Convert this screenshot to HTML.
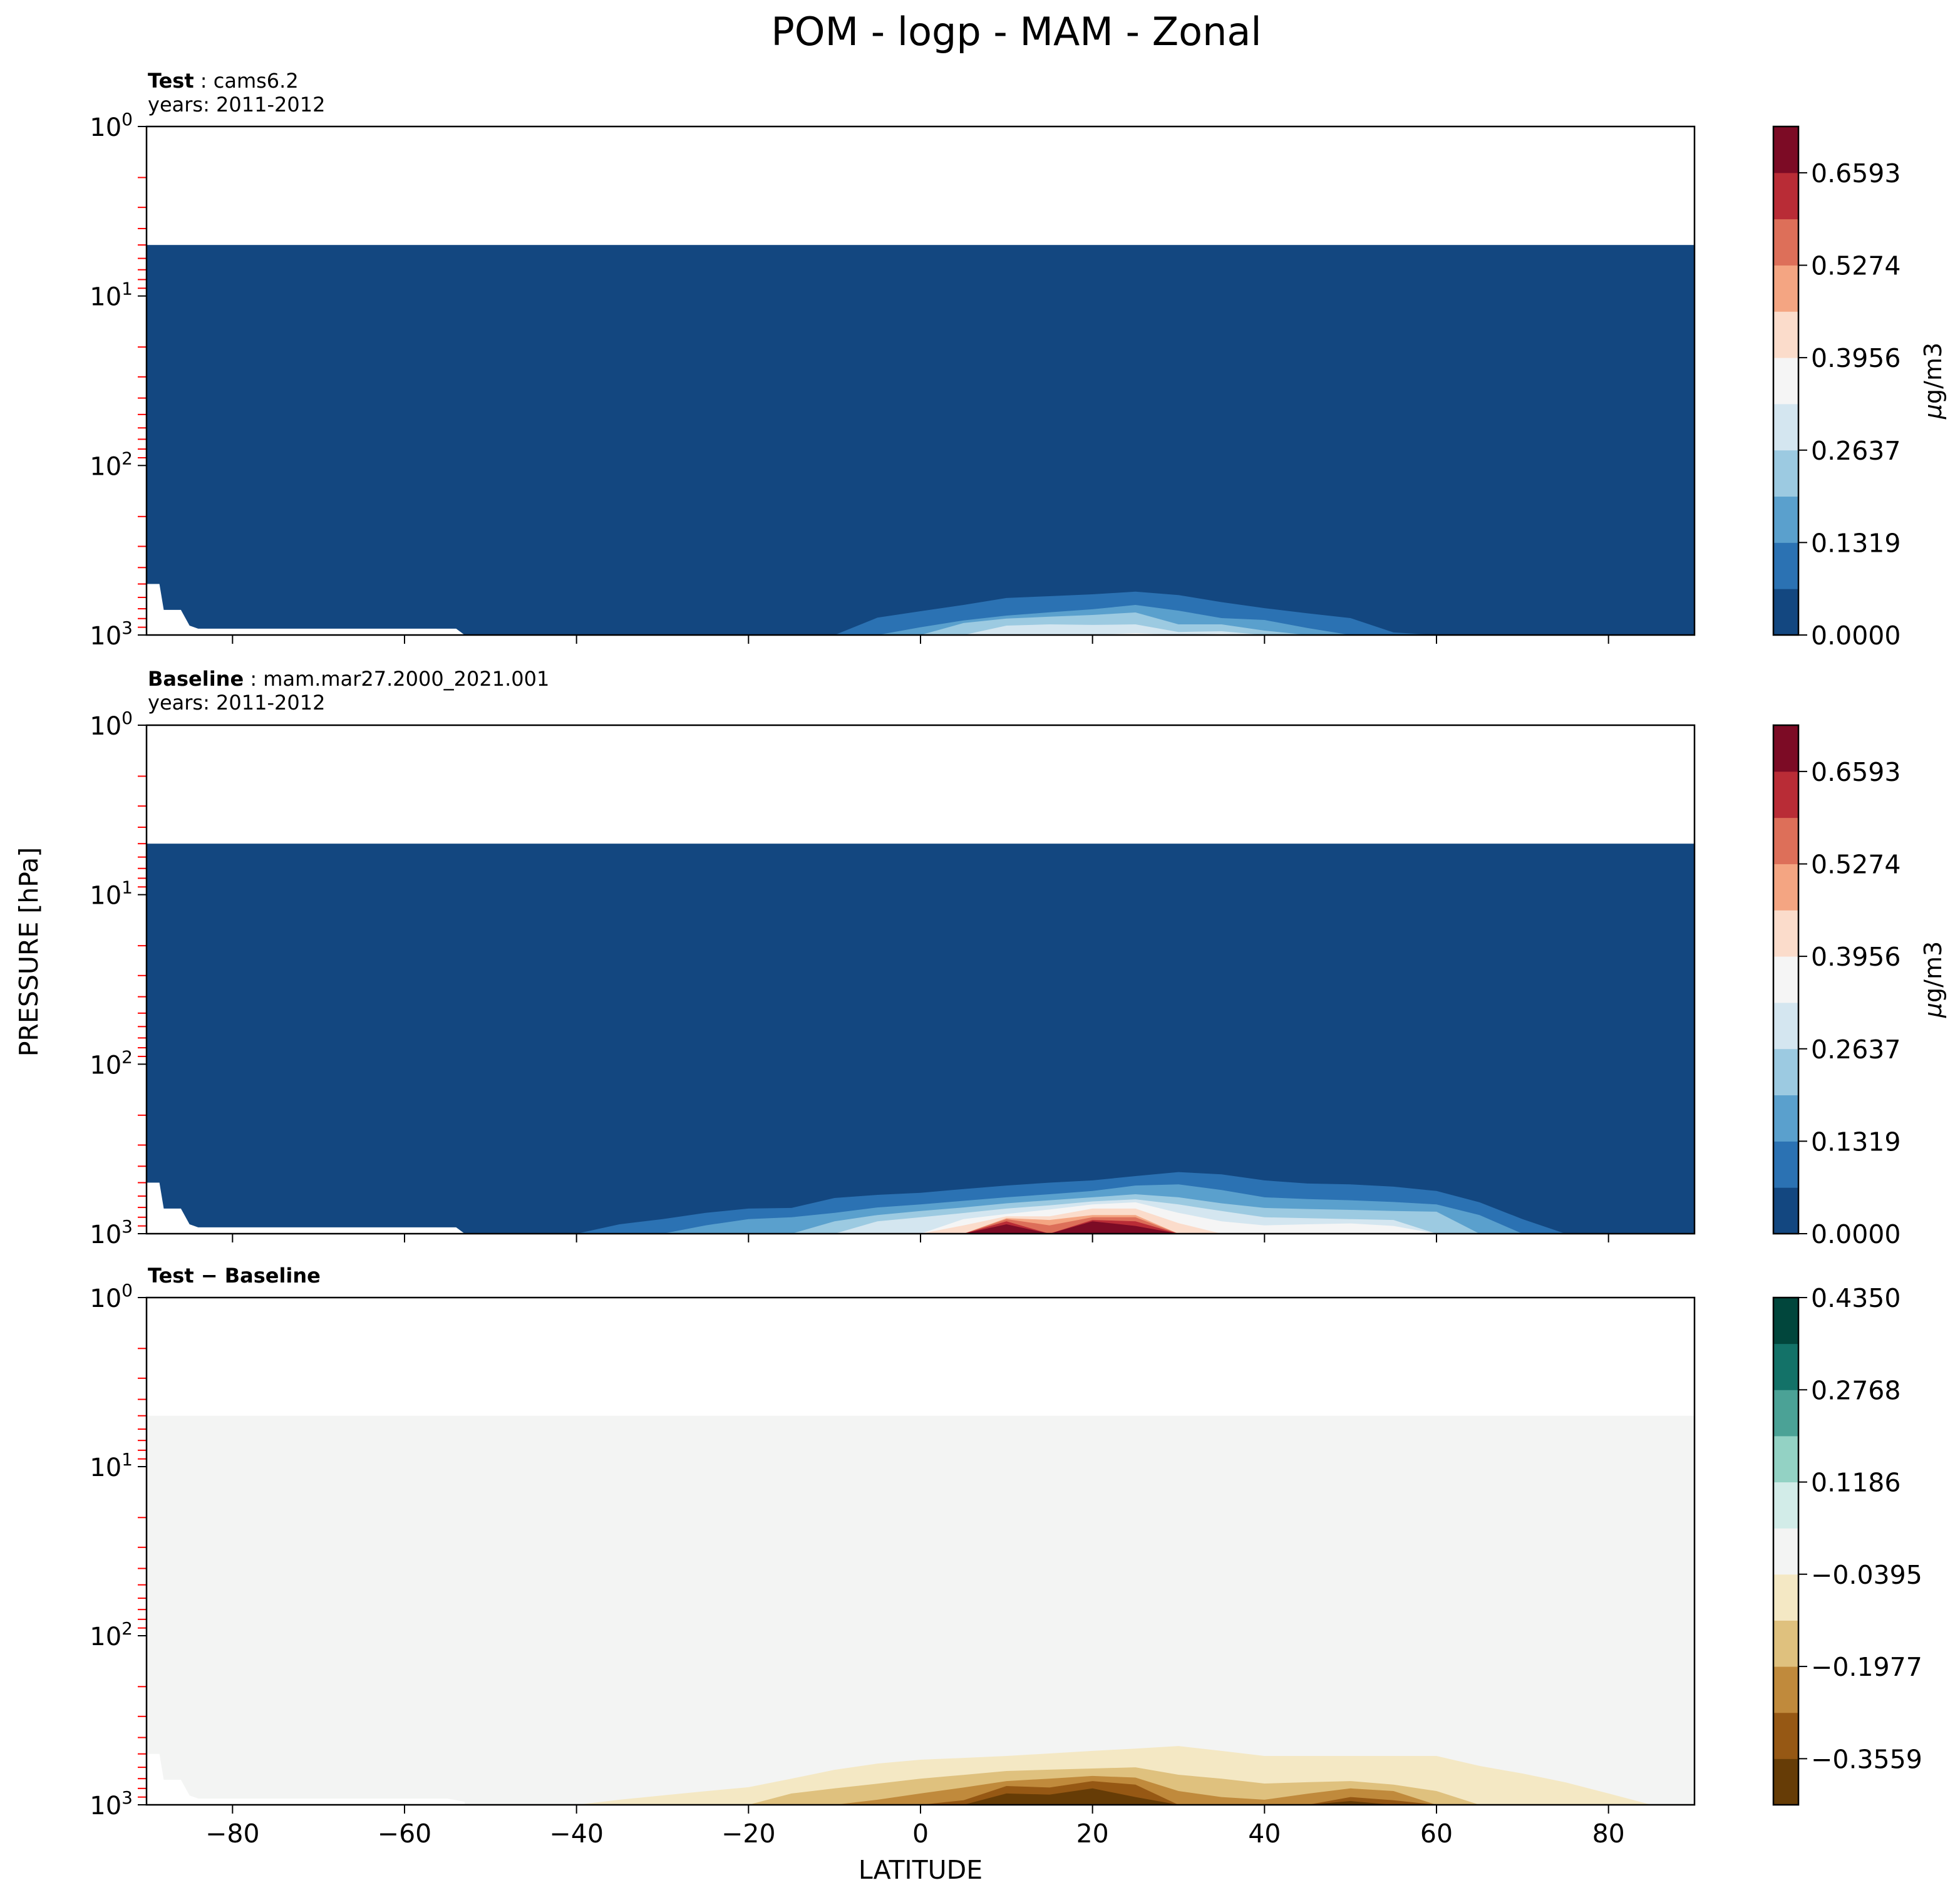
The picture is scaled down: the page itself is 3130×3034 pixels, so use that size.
<!DOCTYPE html>
<html><head><meta charset="utf-8">
<style>
html,body{margin:0;padding:0;background:#fff;}
svg{display:block;font-family:"DejaVu Sans","Liberation Sans",sans-serif;}
</style></head>
<body>
<svg id="fig" width="3130" height="3034" viewBox="0 0 3130 3034" xmlns="http://www.w3.org/2000/svg">
<rect width="3130" height="3034" fill="#fff"/>
<text x="1623" y="72" font-size="62" text-anchor="middle" fill="#000">POM - logp - MAM - Zonal</text>
<text x="236" y="140" font-size="32"><tspan font-weight="bold">Test</tspan> : cams6.2</text>
<text x="236" y="178" font-size="32">years: 2011-2012</text>
<text x="236" y="1095" font-size="32"><tspan font-weight="bold">Baseline</tspan> : mam.mar27.2000_2021.001</text>
<text x="236" y="1133" font-size="32">years: 2011-2012</text>
<text x="236" y="2048" font-size="32" font-weight="bold">Test − Baseline</text>
<text x="0" y="0" font-size="41" text-anchor="middle" transform="translate(60,1520) rotate(-90)">PRESSURE [hPa]</text>
<text x="1470" y="3000" font-size="41" text-anchor="middle">LATITUDE</text>
<g id="plots"></g>
</svg>
<script>
// latitude grid (deg), 5-degree step
const lats = [-90,-85,-80,-75,-70,-65,-60,-55,-50,-45,-40,-35,-30,-25,-20,-15,-10,-5,0,5,10,15,20,25,30,35,40,45,50,55,60,65,70,75,80,85,90];
// contour top pressures (hPa) per level; 1000 = level absent
const testLevels = [
 [1000,1000,1000,1000,1000,1000,1000,1000,1000,1000,1000,1000,1000,1000,1000,1000,1000,790,724,665,605,590,575,555,581,640,694,745,795,966,1000,1000,1000,1000,1000,1000,1000],
 [1000,1000,1000,1000,1000,1000,1000,1000,1000,1000,1000,1000,1000,1000,1000,1000,1000,1000,900,820,768,735,705,665,718,795,815,910,1000,1000,1000,1000,1000,1000,1000,1000,1000],
 [1000,1000,1000,1000,1000,1000,1000,1000,1000,1000,1000,1000,1000,1000,1000,1000,1000,1000,1000,850,800,780,762,736,865,865,942,1000,1000,1000,1000,1000,1000,1000,1000,1000,1000],
 [1000,1000,1000,1000,1000,1000,1000,1000,1000,1000,1000,1000,1000,1000,1000,1000,1000,1000,1000,1000,880,865,872,865,960,950,1000,1000,1000,1000,1000,1000,1000,1000,1000,1000,1000],
 [1000,1000,1000,1000,1000,1000,1000,1000,1000,1000,1000,1000,1000,1000,1000,1000,1000,1000,1000,1000,1000,1000,1000,975,1000,980,1000,1000,1000,1000,1000,1000,1000,1000,1000,1000,1000]
];
const baseLevels = [
 [1000,1000,1000,1000,1000,1000,1000,1000,1000,1000,1000,880,820,753,711,705,616,590,574,545,520,500,485,457,433,447,485,506,512,528,560,653,820,1000,1000,1000,1000],
 [1000,1000,1000,1000,1000,1000,1000,1000,1000,1000,1000,1000,1000,893,820,800,753,700,672,640,610,585,560,520,512,552,610,625,635,650,672,776,1000,1000,1000,1000,1000],
 [1000,1000,1000,1000,1000,1000,1000,1000,1000,1000,1000,1000,1000,1000,1000,1000,845,776,735,700,662,635,610,585,610,662,705,715,724,735,742,1000,1000,1000,1000,1000,1000],
 [1000,1000,1000,1000,1000,1000,1000,1000,1000,1000,1000,1000,1000,1000,1000,1000,1000,845,800,755,711,680,645,627,672,735,800,810,820,830,1000,1000,1000,1000,1000,1000,1000],
 [1000,1000,1000,1000,1000,1000,1000,1000,1000,1000,1000,1000,1000,1000,1000,1000,1000,1000,1000,820,765,720,672,653,753,845,893,880,870,900,1000,1000,1000,1000,1000,1000,1000],
 [1000,1000,1000,1000,1000,1000,1000,1000,1000,1000,1000,1000,1000,1000,1000,1000,1000,1000,1000,893,790,790,711,711,866,1000,1000,1000,1000,1000,1000,1000,1000,1000,1000,1000,1000],
 [1000,1000,1000,1000,1000,1000,1000,1000,1000,1000,1000,1000,1000,1000,1000,1000,1000,1000,1000,1000,810,830,776,776,1000,1000,1000,1000,1000,1000,1000,1000,1000,1000,1000,1000,1000],
 [1000,1000,1000,1000,1000,1000,1000,1000,1000,1000,1000,1000,1000,1000,1000,1000,1000,1000,1000,1000,820,893,800,800,1000,1000,1000,1000,1000,1000,1000,1000,1000,1000,1000,1000,1000],
 [1000,1000,1000,1000,1000,1000,1000,1000,1000,1000,1000,1000,1000,1000,1000,1000,1000,1000,1000,1000,845,1000,830,845,1000,1000,1000,1000,1000,1000,1000,1000,1000,1000,1000,1000,1000],
 [1000,1000,1000,1000,1000,1000,1000,1000,1000,1000,1000,1000,1000,1000,1000,1000,1000,1000,1000,1000,880,1000,845,900,1000,1000,1000,1000,1000,1000,1000,1000,1000,1000,1000,1000,1000]
];
const diffLevels = [
 [1000,1000,1000,1000,1000,1000,1000,1000,1000,1000,1000,933,880,830,787,700,621,570,541,528,514,497,480,465,449,480,514,514,514,514,514,589,653,736,857,1000,1000],
 [1000,1000,1000,1000,1000,1000,1000,1000,1000,1000,1000,1000,1000,1000,1000,857,800,750,700,665,631,620,610,600,664,700,748,735,724,760,829,1000,1000,1000,1000,1000,1000],
 [1000,1000,1000,1000,1000,1000,1000,1000,1000,1000,1000,1000,1000,1000,1000,1000,1000,933,857,790,724,700,675,690,829,900,933,860,800,829,1000,1000,1000,1000,1000,1000,1000],
 [1000,1000,1000,1000,1000,1000,1000,1000,1000,1000,1000,1000,1000,1000,1000,1000,1000,1000,1000,940,774,790,724,760,1000,1000,1000,1000,900,940,1000,1000,1000,1000,1000,1000,1000],
 [1000,1000,1000,1000,1000,1000,1000,1000,1000,1000,1000,1000,1000,1000,1000,1000,1000,1000,1000,1000,857,870,800,900,1000,1000,1000,1000,950,1000,1000,1000,1000,1000,1000,1000,1000]
];
// surface (missing-data) mask: lat and pressure of ground boundary
const maskLats = [-90,-88.5,-88,-86,-85,-84,-54,-53];
const maskP = [500,500,711,711,880,918,918,1000];
const diffMaskLats = [-90,-88.5,-88,-86,-85,-84,-55,-53];
const diffMaskP = [500,500,711,711,880,918,918,960];
const topP = 5; // data top (hPa)
const xTicks = [-80,-60,-40,-20,0,20,40,60,80];
const yMajor = [1,10,100,1000];
const absTicks = ["0.0000","0.1319","0.2637","0.3956","0.5274","0.6593"];
const absTickVals = [0,0.1319,0.2637,0.3956,0.5274,0.6593];
const diffTicks = ["0.4350","0.2768","0.1186","−0.0395","−0.1977","−0.3559"];
const diffTickVals = [0.435,0.2768,0.1186,-0.0395,-0.1977,-0.3559];
const rdbu = ["#134780","#2b72b3","#5aa0cd","#9ccae1","#d4e6f0","#f5f5f5","#fbdccb","#f4a582","#dd6f59","#b92c36","#7c0b25"];
const brbg = ["#663c06","#965814","#c08a3c","#dfc17e","#f4e8c4","#f3f4f3","#d2ece8","#93d2c4","#4ba296","#137268","#01463c"];

const NS="http://www.w3.org/2000/svg";
const plots=document.getElementById('plots');
const X0=234, X1=2706;
function xs(lat){return X0+(lat+90)/180*(X1-X0);}
function mk(tag,attrs,parent){const e=document.createElementNS(NS,tag);for(const k in attrs)e.setAttribute(k,attrs[k]);(parent||plots).appendChild(e);return e;}

function panel(name,top,bot,bgColor,levels,colors,barColors,mLats,mP,cbMin,cbMax,tickVals,tickLabels,showX,showUnit){
  const ys=p=>top+Math.log10(p)/3*(bot-top);
  const g=mk('g',{});
  
  
  mk('rect',{x:X0,y:ys(topP),width:X1-X0,height:bot-ys(topP),fill:bgColor},g);
  levels.forEach((lv,li)=>{
    let d='M'+xs(lats[0])+','+bot;
    lv.forEach((p,i)=>{d+=' L'+xs(lats[i]).toFixed(1)+','+ys(Math.min(p,1000)).toFixed(1);});
    d+=' L'+xs(lats[lats.length-1])+','+bot+' Z';
    const path=mk('path',{d:d,fill:colors[li]},g);
    
    
  });
  let md='M'+xs(mLats[0])+','+bot;
  mLats.forEach((l,i)=>{md+=' L'+xs(l).toFixed(1)+','+ys(mP[i]).toFixed(1);});
  md+=' L'+xs(mLats[mLats.length-1])+','+bot+' Z';
  const m=mk('path',{d:md,fill:'#fff'},g);
  
  
  for(let k=0;k<3;k++)for(let j=2;j<=9;j++){
    const y=ys(j*Math.pow(10,k));
    mk('line',{x1:X0-14,x2:X0,y1:y,y2:y,stroke:'#ff0000','stroke-width':2},g);
  }
  yMajor.forEach((p,i)=>{
    const y=ys(p);
    mk('line',{x1:X0-14,x2:X0,y1:y,y2:y,stroke:'#000','stroke-width':2},g);
    const t=mk('text',{x:X0-22,y:y+15,'font-size':40,'text-anchor':'end'},g);
    
    
    t.innerHTML='10<tspan font-size="28" dy="-17">'+i+'</tspan>';
  });
  xTicks.forEach(v=>{
    const x=xs(v);
    mk('line',{x1:x,x2:x,y1:bot,y2:bot+14,stroke:'#000','stroke-width':2},g);
    if(showX){
      const t=mk('text',{x:x,y:bot+60,'font-size':41,'text-anchor':'middle'},g);
      
      
      t.textContent=(v<0?'−':'')+Math.abs(v);
    }
  });
  const fr=mk('rect',{x:X0,y:top,width:X1-X0,height:bot-top,fill:'none',stroke:'#000','stroke-width':2.5},g);
  
  
  const cx=2832,cw=40;
  const cy=v=>bot-(v-cbMin)/(cbMax-cbMin)*(bot-top);
  const n=barColors.length;
  const cb=mk('g',{},g);
  
  
  barColors.forEach((c,i)=>{
    const y1=bot-(i+1)/n*(bot-top), y0=bot-i/n*(bot-top);
    mk('rect',{x:cx,y:y1,width:cw,height:y0-y1+0.5,fill:c},cb);
  });
  mk('rect',{x:cx,y:top,width:cw,height:bot-top,fill:'none',stroke:'#000','stroke-width':2.5},cb);
  tickVals.forEach((v,i)=>{
    const y=cy(v);
    mk('line',{x1:cx+cw,x2:cx+cw+14,y1:y,y2:y,stroke:'#000','stroke-width':2},cb);
    const t=mk('text',{x:cx+cw+20,y:y+15,'font-size':41},cb);
    
    
    t.textContent=tickLabels[i];
  });
  if(showUnit){
    const u=mk('text',{x:0,y:0,'font-size':38,'text-anchor':'middle',transform:'translate(3100,'+((top+bot)/2)+') rotate(-90)'},g);
    
    
    u.innerHTML='<tspan font-style="italic">μ</tspan>g/m3';
  }
}
panel('test-panel',202,1014,rdbu[0],testLevels,rdbu.slice(1),rdbu,maskLats,maskP,0,0.7253,absTickVals,absTicks,false,true);
panel('baseline-panel',1158,1970,rdbu[0],baseLevels,rdbu.slice(1),rdbu,maskLats,maskP,0,0.7253,absTickVals,absTicks,false,true);
panel('difference-panel',2072,2882,brbg[5],diffLevels,brbg.slice(0,5).reverse(),brbg,diffMaskLats,diffMaskP,-0.435,0.435,diffTickVals,diffTicks,true,false);
</script>
</body></html>
